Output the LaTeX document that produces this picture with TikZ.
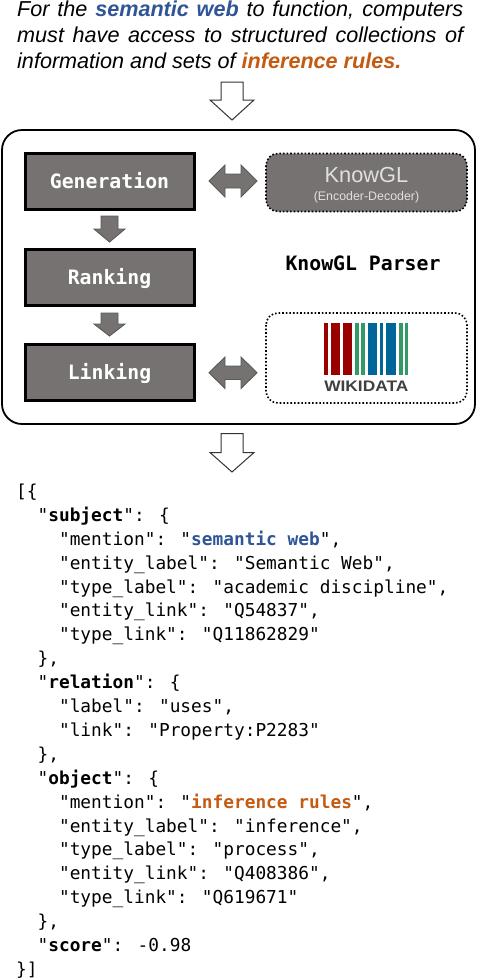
\documentclass[tikz,border=0pt]{standalone}
\usepackage{fontspec}
\setmainfont{Liberation Sans}
\newfontfamily\jsonfont{DejaVu Sans Mono}
\usetikzlibrary{shapes.misc}
\definecolor{boxgrey}{HTML}{767271}
\definecolor{kwblue}{HTML}{2F5597}
\definecolor{kworange}{HTML}{C55A11}
\definecolor{wdred}{HTML}{990000}
\definecolor{wdgreen}{HTML}{339966}
\definecolor{wdblue}{HTML}{006699}
\newcommand{\hl}[2]{\textcolor{#1}{\textbf{#2}}}
\newcommand{\jsize}{\fontsize{17.8}{20}\selectfont}
\tikzset{
  x=1pt,y=-1pt,
  stagebox/.style={draw=black,line width=3pt,fill=boxgrey,text=white,minimum width=169pt,minimum height=56pt,inner sep=0pt,text height=14pt,text depth=0pt,font=\jsonfont\bfseries\fontsize{19.8}{22}\selectfont},
  toolbox/.style={draw=black,line width=1.6pt,dotted,rounded corners=12pt},
  greyarrow/.style={draw=black!65,line width=0.9pt,fill=boxgrey,line join=miter},
  whitearrow/.style={draw=black!80,line width=1pt,fill=white},
  headline/.style={anchor=base west,inner sep=0pt,font=\fontsize{21.6}{24}\selectfont\itshape},
  jsonline/.style={anchor=base west,inner sep=0pt,font=\jsonfont\jsize},
}
\newcommand{\wdbar}[3]{\fill[#1] (#2,323.3) rectangle (#3,375);}
\begin{document}
\begin{tikzpicture}
\useasboundingbox (0,0) rectangle (478,978);
\fill[white] (0,0) rectangle (478,978);
% headline
\node[headline] (h1) at (17,16) {\makebox[446pt][s]{For the \hl{kwblue}{semantic web} to function, computers}};
\node[headline] (h2) at (17,42) {\makebox[446pt][s]{must have access to structured collections of}};
\node[headline] (h3) at (17,68) {information and sets of \hl{kworange}{inference rules.}};
% white arrows
\draw[whitearrow] (221,82) -- (243,82) -- (243,100) -- (254,100) -- (232,120) -- (210,100) -- (221,100) -- cycle;
\draw[whitearrow] (221,433.5) -- (243,433.5) -- (243,452.5) -- (254,452.5) -- (232,472) -- (210,452.5) -- (221,452.5) -- cycle;
% outer frame
\draw[black,line width=1.8pt,rounded corners=20pt] (2,130) rectangle (475,424);
% stages
\node[stagebox] (gen) at (109.5,181) {Generation};
\node[stagebox] (rank) at (109.5,277) {Ranking};
\node[stagebox] (link) at (109.5,372.5) {Linking};
% grey down arrows
\draw[greyarrow] (101,216) -- (118,216) -- (118,229) -- (125,229) -- (109.5,242) -- (94,229) -- (101,229) -- cycle;
\draw[greyarrow] (101,313) -- (118,313) -- (118,324) -- (125,324) -- (109.5,336) -- (94,324) -- (101,324) -- cycle;
% grey double arrows
\draw[greyarrow] (209,181) -- (225,165) -- (225,174) -- (241,174) -- (241,165) -- (257,181) -- (241,197) -- (241,188) -- (225,188) -- (225,197) -- cycle;
\draw[greyarrow] (209,372.7) -- (225,357) -- (225,366) -- (241,366) -- (241,357) -- (257,372.7) -- (241,388.5) -- (241,379.5) -- (225,379.5) -- (225,388.5) -- cycle;
% tool boxes
\fill[boxgrey,rounded corners=12pt] (266,153.5) rectangle (467,211.5);
\draw[toolbox] (266,153.5) rectangle (467,211.5);
\draw[toolbox] (266,313) rectangle (467,403);
\node[inner sep=0pt,text=white!88!black,font=\fontsize{21.8}{24}\selectfont] (kg) at (366.5,175) {KnowGL};
\node[inner sep=0pt,text=white!88!black,font=\fontsize{12.4}{14}\selectfont] (ed) at (366.5,197) {(Encoder-Decoder)};
\node[inner sep=0pt,font=\jsonfont\bfseries\fontsize{19.8}{22}\selectfont] (parser) at (363,263) {KnowGL Parser};
% wikidata logo
\wdbar{wdred}{324.3}{328}
\wdbar{wdred}{330.7}{340.3}
\wdbar{wdred}{342.7}{352.3}
\wdbar{wdgreen}{355}{358.7}
\wdbar{wdgreen}{361.3}{364.7}
\wdbar{wdblue}{367.7}{377}
\wdbar{wdblue}{380}{383.3}
\wdbar{wdblue}{386}{395.7}
\wdbar{wdgreen}{399}{402.7}
\wdbar{wdgreen}{404.7}{408.3}
\node[inner sep=0pt,anchor=base,text=black!75,font=\bfseries] (wd) at (366.3,391.5) {\resizebox{84pt}{10.5pt}{WIKIDATA}};
% json
\node[jsonline] (j0) at (16,497) {[\{};
\node[jsonline] (j1) at (16,521) {\ \ "\textbf{subject}": \{};
\node[jsonline] (j2) at (16,545) {\ \ \ \ "mention": "\hl{kwblue}{semantic web}",};
\node[jsonline] (j3) at (16,569) {\ \ \ \ "entity\_label": "Semantic Web",};
\node[jsonline] (j4) at (16,593) {\ \ \ \ "type\_label": "academic discipline",};
\node[jsonline] (j5) at (16,616.5) {\ \ \ \ "entity\_link": "Q54837",};
\node[jsonline] (j6) at (16,640.5) {\ \ \ \ "type\_link": "Q11862829"};
\node[jsonline] (j7) at (16,664.5) {\ \ \},};
\node[jsonline] (j8) at (16,688.5) {\ \ "\textbf{relation}": \{};
\node[jsonline] (j9) at (16,712) {\ \ \ \ "label": "uses",};
\node[jsonline] (j10) at (16,736) {\ \ \ \ "link": "Property:P2283"};
\node[jsonline] (j11) at (16,760) {\ \ \},};
\node[jsonline] (j12) at (16,784) {\ \ "\textbf{object}": \{};
\node[jsonline] (j13) at (16,808) {\ \ \ \ "mention": "\hl{kworange}{inference rules}",};
\node[jsonline] (j14) at (16,832) {\ \ \ \ "entity\_label": "inference",};
\node[jsonline] (j15) at (16,855.5) {\ \ \ \ "type\_label": "process",};
\node[jsonline] (j16) at (16,879.5) {\ \ \ \ "entity\_link": "Q408386",};
\node[jsonline] (j17) at (16,903.5) {\ \ \ \ "type\_link": "Q619671"};
\node[jsonline] (j18) at (16,927.5) {\ \ \},};
\node[jsonline] (j19) at (16,951) {\ \ "\textbf{score}": -0.98};
\node[jsonline] (j20) at (16,975) {\}]};
\end{tikzpicture}
\end{document}
